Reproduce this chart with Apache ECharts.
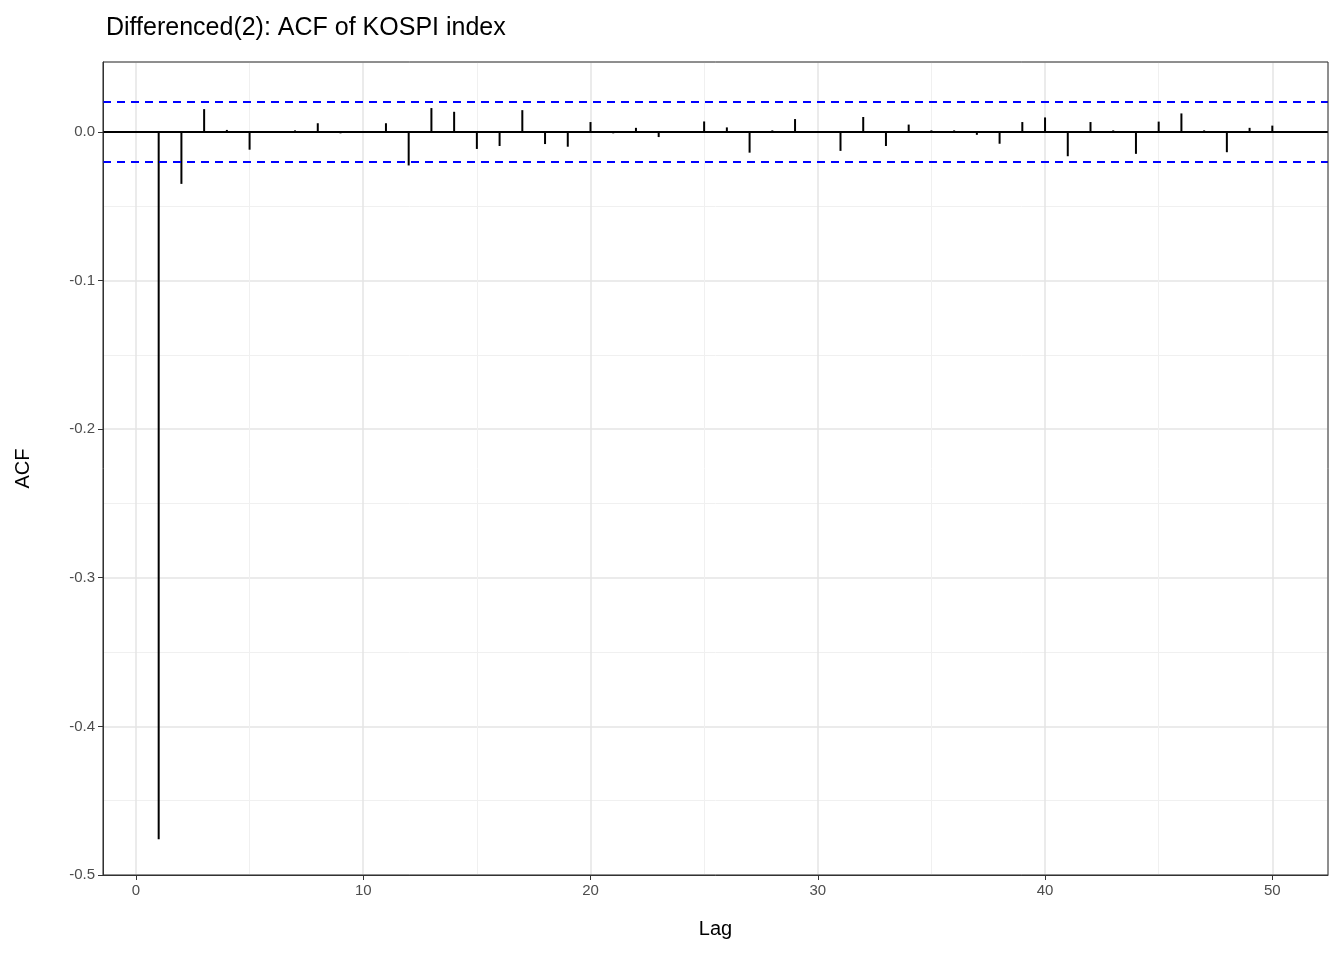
<!DOCTYPE html>
<html><head><meta charset="utf-8">
<script src="https://cdn.jsdelivr.net/npm/echarts@6/dist/echarts.min.js"></script>
<style>html,body{margin:0;padding:0;background:#fff}#c{width:1344px;height:960px}</style>
</head><body><div id="c"></div>
<script>
const lags = Array.from({length:50},(_, i)=>i+1);
const acf = [-0.476,-0.035,0.0153,0.0013,-0.012,0.0,0.001,0.0058,-0.001,0.0,
0.0058,-0.0226,0.016,0.0135,-0.0115,-0.0095,0.0146,-0.0082,-0.010,0.0066,
-0.001,0.0027,-0.0035,0.0,0.007,0.003,-0.014,0.001,0.0086,0.0,
-0.0128,0.010,-0.0095,0.0049,0.001,0.001,-0.002,-0.008,0.0066,0.0097,
-0.0164,0.0066,0.001,-0.0148,0.0069,0.0124,0.001,-0.0137,0.0027,0.0042];
const ciBound = 0.023;
const data = lags.map((l,i)=>[l,acf[i]]);
const chart = echarts.init(document.getElementById('c'));
const font = 'Liberation Sans, Arial, sans-serif';
chart.setOption({
  animation:false,
  title:{text:'Differenced(2): ACF of KOSPI index',left:101,top:11,textStyle:{fontFamily:font,fontSize:25,fontWeight:'normal',color:'#000'}},
  grid:{left:103,right:16,top:62,bottom:85,show:true,borderColor:'#333',borderWidth:1,z:10},
  xAxis:{type:'value',min:-1.45,max:52.45,splitNumber:5,name:'Lag',nameLocation:'middle',nameGap:44,
    nameTextStyle:{fontFamily:font,fontSize:20,color:'#000'},
    axisLine:{show:true,onZero:false,lineStyle:{color:'#333'}},axisTick:{show:true,length:5,lineStyle:{color:'#333'}},
    axisLabel:{fontFamily:font,fontSize:15,color:'#4d4d4d',showMinLabel:false,showMaxLabel:false,
      formatter:v=>(v%10===0&&v>=0&&v<=50)?String(v):''},
    splitLine:{lineStyle:{color:'#e5e5e5',width:1.5}},
    minorTick:{show:false,splitNumber:2},minorSplitLine:{show:true,lineStyle:{color:'#f0f0f0',width:1}}},
  yAxis:{type:'value',min:-0.5,max:0.047,interval:0.1,name:'ACF',nameLocation:'middle',nameGap:70,
    nameTextStyle:{fontFamily:font,fontSize:20,color:'#000'},
    axisLine:{show:true,onZero:false,lineStyle:{color:'#333'}},axisTick:{show:true,length:5,lineStyle:{color:'#333'}},
    axisLabel:{fontFamily:font,fontSize:15,color:'#4d4d4d',showMaxLabel:false,formatter:v=>{const r=Math.round(v*10)/10;return (Math.abs(v-r)<1e-6&&r<=0)?r.toFixed(1):'';}},
    splitLine:{lineStyle:{color:'#e5e5e5',width:1.5}},
    minorTick:{show:false,splitNumber:2},minorSplitLine:{show:true,lineStyle:{color:'#f0f0f0',width:1}}},
  series:[{
    type:'custom',
    data:data,
    renderItem:(params,api)=>{
      const x=api.value(0), y=api.value(1);
      const p0=api.coord([x,0]), p1=api.coord([x,y]);
      return {type:'line',shape:{x1:p0[0],y1:p0[1],x2:p1[0],y2:p1[1]},style:{stroke:'#000',lineWidth:2}};
    },
    markLine:{silent:true,symbol:'none',label:{show:false},
      data:[
        {yAxis:0,lineStyle:{color:'#000',type:'solid',width:2}},
        {yAxis:ciBound,lineStyle:{color:'#0000ff',type:[8,6],width:2}},
        {yAxis:-ciBound,lineStyle:{color:'#0000ff',type:[8,6],width:2}}
      ]}
  }]
});
</script></body></html>
